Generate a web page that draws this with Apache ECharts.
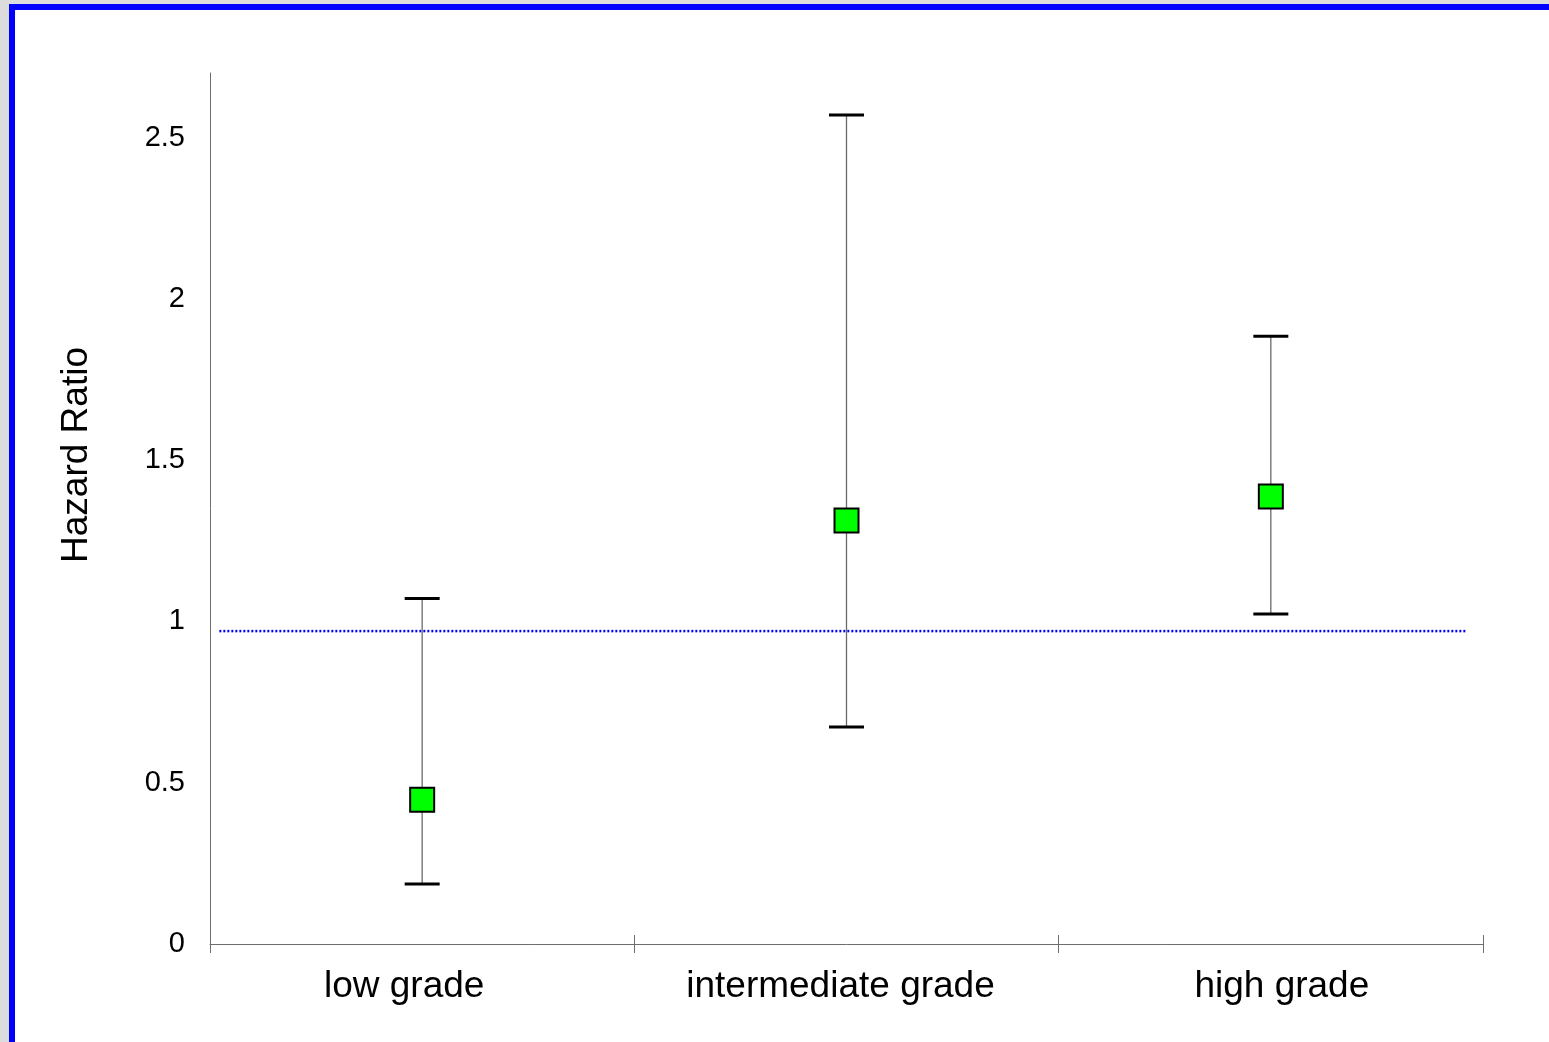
<!DOCTYPE html>
<html>
<head>
<meta charset="utf-8">
<script src="https://cdn.jsdelivr.net/npm/echarts@6/dist/echarts.min.js"></script>
<style>
  html, body { margin: 0; padding: 0; width: 1549px; height: 1042px; overflow: hidden; background: #dcdcdc; }
  #frame { position: absolute; left: 9px; top: 4px; right: -10px; bottom: -10px; background: #ffffff; border-left: 6px solid #0000ff; border-top: 6px solid #0000ff; }
  #chart { position: absolute; left: 0; top: 0; width: 1549px; height: 1042px; }
</style>
</head>
<body>
<div id="frame"></div>
<div id="chart"></div>
<script>
// ---- data ----
const categories = ['low grade', 'intermediate grade', 'high grade'];
const hazardRatio = [0.447, 1.313, 1.387];
const lowerCI = [0.186, 0.673, 1.023];
const upperCI = [1.071, 2.570, 1.884];
const refLineValue = 0.97;
const refLineX = [0.022, 2.962];   // span of the dotted reference line on the 0..3 category scale
const yTicks = [0, 0.5, 1, 1.5, 2, 2.5];
const yTitle = 'Hazard Ratio';

const chart = echarts.init(document.getElementById('chart'), null, { renderer: 'canvas' });
const font = 'Liberation Sans, Arial, sans-serif';

const labelShift = [[0, 36, 0, 0], [0, 12, 0, 0], [0, 0, 0, 22]];

const option = {
  backgroundColor: 'transparent',
  animation: false,
  grid: { left: 210, right: 66, top: 73, bottom: 98, containLabel: false },
  xAxis: [
    {
      type: 'category',
      data: categories.map((c, i) => ({ value: c, textStyle: { padding: labelShift[i] } })),
      boundaryGap: true,
      axisLine: { show: true, lineStyle: { color: '#6e6e6e', width: 1 } },
      axisTick: { show: true, alignWithLabel: false, length: 9, inside: false, lineStyle: { color: '#6e6e6e', width: 1 } },
      axisLabel: { color: '#000000', fontSize: 37, fontFamily: font, margin: 24 },
      splitLine: { show: false }
    },
    {
      type: 'category',
      data: categories,
      boundaryGap: true,
      position: 'bottom',
      offset: 0,
      axisLine: { show: false },
      axisTick: { show: true, length: 9, inside: true, lineStyle: { color: '#6e6e6e', width: 1 } },
      axisLabel: { show: false },
      splitLine: { show: false }
    },
    {
      type: 'value',
      min: 0, max: 3,
      show: false
    }
  ],
  yAxis: {
    type: 'value',
    min: 0, max: 2.7, interval: 0.5,
    axisLine: { show: true, lineStyle: { color: '#6e6e6e', width: 1 } },
    axisTick: { show: false },
    splitLine: { show: false },
    axisLabel: {
      color: '#000000', fontSize: 29, fontFamily: font, margin: 25,
      padding: [5, 0, 0, 0],
      showMaxLabel: false,
      formatter: v => (yTicks.some(t => Math.abs(t - v) < 1e-9) ? String(v) : '')
    }
  },
  graphic: [{
    type: 'text',
    x: 77, y: 455,
    rotation: Math.PI / 2,
    style: { text: yTitle, fill: '#000000', font: '37px ' + font, align: 'center', verticalAlign: 'middle' }
  }],
  series: [
    {
      type: 'line',
      xAxisIndex: 2,
      data: refLineX.map(x => [x, refLineValue]),
      symbol: 'none',
      lineStyle: { color: '#0000ff', width: 2.5, type: [2, 2] },
      z: 2
    },
    {
      type: 'custom',
      xAxisIndex: 0,
      data: categories.map((c, i) => [i, hazardRatio[i], lowerCI[i], upperCI[i]]),
      renderItem: function (params, api) {
        const i = api.value(0);
        const mid = api.coord([i, api.value(1)]);
        const lo = api.coord([i, api.value(2)]);
        const hi = api.coord([i, api.value(3)]);
        const capHalf = 17.5;
        const sq = 24;
        return {
          type: 'group',
          children: [
            { type: 'line', shape: { x1: mid[0], y1: hi[1], x2: mid[0], y2: lo[1] }, style: { stroke: '#6a6a6a', lineWidth: 1.3 } },
            { type: 'line', shape: { x1: mid[0] - capHalf, y1: hi[1], x2: mid[0] + capHalf, y2: hi[1] }, style: { stroke: '#000000', lineWidth: 3 } },
            { type: 'line', shape: { x1: mid[0] - capHalf, y1: lo[1], x2: mid[0] + capHalf, y2: lo[1] }, style: { stroke: '#000000', lineWidth: 3 } },
            { type: 'rect', shape: { x: mid[0] - sq / 2, y: mid[1] - sq / 2, width: sq, height: sq }, style: { fill: '#00ff00', stroke: '#000000', lineWidth: 2 } }
          ]
        };
      },
      z: 3
    }
  ]
};
chart.setOption(option);
</script>
</body>
</html>
